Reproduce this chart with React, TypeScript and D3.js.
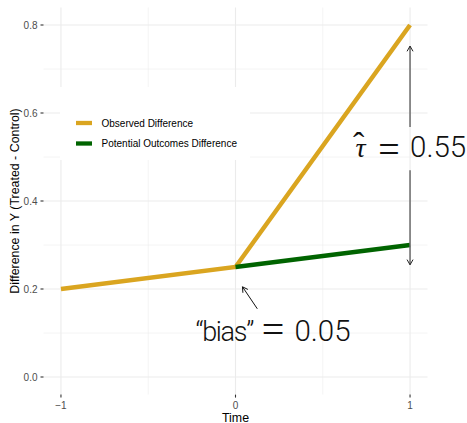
import React from "react";
import * as d3 from "d3";

const time = [-1, 0, 1];
const observed = [0.2, 0.25, 0.8];
const poTime = [0, 1];
const poValues = [0.25, 0.3];
const xTicks = [-1, 0, 1];
const xMinor = [-0.5, 0.5];
const yTicks = [0, 0.2, 0.4, 0.6, 0.8];
const yMinor = [0.1, 0.3, 0.5, 0.7];
const legendLabels = ["Observed Difference", "Potential Outcomes Difference"];
const colors = ["#DAA520", "#006400"];
const tauArrowUpper = [0.568, 0.752];
const tauArrowLower = [0.47, 0.255];
const tauLabel = { x: 1, y: 0.5, value: "0.55" };
const biasLabel = { x: 0.2, y: 0.0825, value: "0.05" };
const biasArrow = { from: [0.125, 0.155], to: [0.04, 0.205] };

const W = 467, H = 423;
const PL = 43.5, PR = 427.5, PT = 7.4, PB = 394.6;

export default function App() {
  const x = d3.scaleLinear().domain([-1.1, 1.1]).range([PL, PR]);
  const y = d3.scaleLinear().domain([-0.04, 0.84]).range([PB, PT]);
  const line = d3.line<[number, number]>().x(d => x(d[0])).y(d => y(d[1]));
  const obsPts = time.map((t, i) => [t, observed[i]] as [number, number]);
  const poPts = poTime.map((t, i) => [t, poValues[i]] as [number, number]);

  const head = (tx: number, ty: number, fx: number, fy: number, len = 6, ang = Math.PI / 6) => {
    const a = Math.atan2(fy - ty, fx - tx);
    const p1 = [tx + len * Math.cos(a + ang), ty + len * Math.sin(a + ang)];
    const p2 = [tx + len * Math.cos(a - ang), ty + len * Math.sin(a - ang)];
    return `M${p1[0]},${p1[1]}L${tx},${ty}L${p2[0]},${p2[1]}`;
  };

  const ax = x(1);
  const upTip = y(tauArrowUpper[1]);
  const lowTip = y(tauArrowLower[1]);
  const tx = x(tauLabel.x), ty = y(tauLabel.y);
  const bx = x(biasLabel.x), by = y(biasLabel.y);
  const bTo = [x(biasArrow.to[0]), y(biasArrow.to[1])];
  const bFrom = [x(biasArrow.from[0]), y(biasArrow.from[1])];
  const bigFont = "Roboto, 'Liberation Sans', sans-serif";
  const serif = "'Liberation Serif', serif";

  return (
    <svg width={W} height={H} style={{ position: "absolute", left: 0, top: 0, background: "#fff" }}>
      <rect width={W} height={H} fill="#fff" />
      {/* grid */}
      {xMinor.map(v => <line key={"xm" + v} x1={x(v)} x2={x(v)} y1={PT} y2={PB} stroke="#EBEBEB" strokeWidth={0.55} />)}
      {yMinor.map(v => <line key={"ym" + v} x1={PL} x2={PR} y1={y(v)} y2={y(v)} stroke="#EBEBEB" strokeWidth={0.55} />)}
      {xTicks.map(v => <line key={"xg" + v} x1={x(v)} x2={x(v)} y1={PT} y2={PB} stroke="#EBEBEB" strokeWidth={1.1} />)}
      {yTicks.map(v => <line key={"yg" + v} x1={PL} x2={PR} y1={y(v)} y2={y(v)} stroke="#EBEBEB" strokeWidth={1.1} />)}
      {/* legend */}
      <rect x={60} y={87} width={190} height={73} fill="#fff" />
      {legendLabels.map((l, i) => (
        <g key={l}>
          <line x1={76} x2={92} y1={123 + i * 20.5} y2={123 + i * 20.5} stroke={colors[i]} strokeWidth={4.3} />
          <text x={101.5} y={126.5 + i * 20.5} fontSize={10} fontFamily="'Liberation Sans', Arial, sans-serif" fill="#000">{l}</text>
        </g>
      ))}
      {/* lines */}
      <path d={line(obsPts) || ""} fill="none" stroke={colors[0]} strokeWidth={4.5} />
      <path d={line(poPts) || ""} fill="none" stroke={colors[1]} strokeWidth={4.5} />
      {/* tau arrow */}
      <line x1={ax} x2={ax} y1={y(tauArrowUpper[0])} y2={upTip} stroke="#6b6b6b" strokeWidth={1.5} />
      <line x1={ax} x2={ax} y1={y(tauArrowLower[0])} y2={lowTip} stroke="#6b6b6b" strokeWidth={1.5} />
      <path d={head(ax, upTip, ax, upTip + 10)} fill="none" stroke="#222" strokeWidth={1} />
      <path d={head(ax, lowTip, ax, lowTip - 10)} fill="none" stroke="#222" strokeWidth={1} />
      {/* tau label */}
      <text fill="#111">
        <tspan x={tx - 49.5} y={ty} fontSize={28} fontStyle="italic" fontFamily={serif} textAnchor="middle">τ</tspan>
        <tspan x={tx - 51.5} y={ty - 1} fontSize={34} fontFamily={serif} textAnchor="middle">ˆ</tspan>
        <tspan x={tx - 21} y={ty + 4.5} fontSize={38} fontFamily={serif} textAnchor="middle">=</tspan>
        <tspan x={tx} y={ty} fontSize={29.5} fontFamily={bigFont} fontWeight={300} textAnchor="start">{tauLabel.value}</tspan>
      </text>
      {/* bias label */}
      <text fill="#111">
        <tspan x={bx - 75} y={by} fontSize={27} fontFamily={bigFont} fontWeight={300} letterSpacing={-1.3}>“bias”</tspan>
        <tspan x={bx + 2.5} y={by + 2.5} fontSize={40} fontFamily={serif} textAnchor="middle">=</tspan>
        <tspan x={bx + 24} y={by} fontSize={29.5} fontFamily={bigFont} fontWeight={300} textAnchor="start">{biasLabel.value}</tspan>
      </text>
      <line x1={bFrom[0]} y1={bFrom[1]} x2={bTo[0]} y2={bTo[1]} stroke="#111" strokeWidth={1} />
      <path d={head(bTo[0], bTo[1], bFrom[0], bFrom[1], 6)} fill="none" stroke="#111" strokeWidth={1} />
      {/* axes */}
      {yTicks.map(v => (
        <g key={"yt" + v}>
          <line x1={40.5} x2={43.5} y1={y(v)} y2={y(v)} stroke="#333" strokeWidth={1.1} />
          <text x={37.5} y={y(v) + 3.5} fontSize={10} textAnchor="end" fill="#4D4D4D" fontFamily="'Liberation Sans', Arial, sans-serif">{d3.format(".1f")(v)}</text>
        </g>
      ))}
      {xTicks.map(v => (
        <g key={"xt" + v}>
          <line x1={x(v)} x2={x(v)} y1={394.6} y2={397.6} stroke="#333" strokeWidth={1.1} />
          <text x={x(v)} y={408.5} fontSize={10} textAnchor="middle" fill="#4D4D4D" fontFamily="'Liberation Sans', Arial, sans-serif">{d3.format("d")(v)}</text>
        </g>
      ))}
      <text x={x(0)} y={421.5} fontSize={12.4} textAnchor="middle" fill="#000" fontFamily="'Liberation Sans', Arial, sans-serif">Time</text>
      <text transform={`translate(18.5,${(PT + PB) / 2}) rotate(-90)`} fontSize={12.4} textAnchor="middle" fill="#000" fontFamily="'Liberation Sans', Arial, sans-serif">Difference in Y (Treated - Control)</text>
    </svg>
  );
}
